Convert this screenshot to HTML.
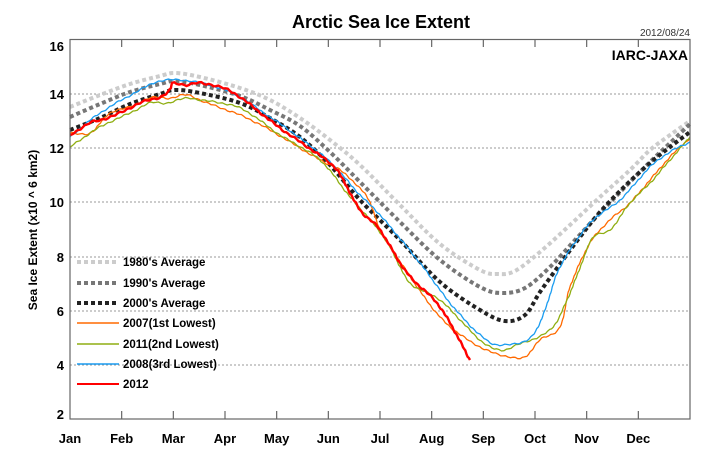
<!DOCTYPE html>
<html><head><meta charset="utf-8"><style>
html,body{margin:0;padding:0;background:#fff;}
svg{display:block;font-family:"Liberation Sans",sans-serif;}
</style></head><body>
<svg id="s" width="720" height="450" viewBox="0 0 720 450" xmlns="http://www.w3.org/2000/svg">
<rect width="720" height="450" fill="#fff"/>
<text x="381" y="28" font-size="18" font-weight="bold" text-anchor="middle">Arctic Sea Ice Extent</text>
<text x="690" y="36" font-size="10" text-anchor="end" fill="#333">2012/08/24</text>
<g id="grid" stroke="#999" stroke-width="1" stroke-dasharray="2,2">
<line x1="70" x2="690" y1="94" y2="94"/><line x1="70" x2="690" y1="148" y2="148"/>
<line x1="70" x2="690" y1="202" y2="202"/><line x1="70" x2="690" y1="257" y2="257"/>
<line x1="70" x2="690" y1="311" y2="311"/><line x1="70" x2="690" y1="365" y2="365"/>
</g>
<g id="series"></g>
<rect x="70" y="39.5" width="620" height="379.5" fill="none" stroke="#666" stroke-width="1.2"/>
<g id="ticks" stroke="#666" stroke-width="1.2"></g>
<text x="688" y="60" font-size="14" font-weight="bold" text-anchor="end">IARC-JAXA</text>
<g font-size="13" font-weight="bold" text-anchor="end">
<text x="64" y="51">16</text><text x="64" y="99">14</text><text x="64" y="153">12</text>
<text x="64" y="207">10</text><text x="64" y="262">8</text><text x="64" y="316">6</text>
<text x="64" y="370">4</text><text x="64" y="419">2</text>
</g>
<g id="xl" font-size="13" font-weight="bold" text-anchor="middle"></g>
<text transform="translate(37,230) rotate(-90)" font-size="12" font-weight="bold" text-anchor="middle">Sea Ice Extent (x10 ^ 6 km2)</text>
<g font-size="11.5" font-weight="bold">
<line x1="77" x2="119" y1="262" y2="262" stroke="#ccc" stroke-width="4" stroke-dasharray="4,3"/><text x="123" y="266">1980's Average</text>
<line x1="77" x2="119" y1="283" y2="283" stroke="#777" stroke-width="4" stroke-dasharray="4,3"/><text x="123" y="287">1990's Average</text>
<line x1="77" x2="119" y1="303" y2="303" stroke="#222" stroke-width="4" stroke-dasharray="4,3"/><text x="123" y="307">2000's Average</text>
<line x1="77" x2="119" y1="323" y2="323" stroke="#ff6a00" stroke-width="1.5"/><text x="123" y="327">2007(1st Lowest)</text>
<line x1="77" x2="119" y1="344" y2="344" stroke="#8fae12" stroke-width="1.5"/><text x="123" y="348">2011(2nd Lowest)</text>
<line x1="77" x2="119" y1="364" y2="364" stroke="#1a9cf0" stroke-width="1.5"/><text x="123" y="368">2008(3rd Lowest)</text>
<line x1="77" x2="119" y1="384" y2="384" stroke="#f00" stroke-width="2"/><text x="123" y="388">2012</text>
</g>
</svg>
<script>
var NS="http://www.w3.org/2000/svg";
function el(p,t,a){var e=document.createElementNS(NS,t);for(var k in a)e.setAttribute(k,a[k]);p.appendChild(e);return e;}
var months=["Jan","Feb","Mar","Apr","May","Jun","Jul","Aug","Sep","Oct","Nov","Dec"];
var tg=document.getElementById("ticks"),xl=document.getElementById("xl");
for(var i=0;i<12;i++){var x=70+i*620/12;
 if(i>0){el(tg,"line",{x1:x,x2:x,y1:40,y2:47});el(tg,"line",{x1:x,x2:x,y1:419,y2:411});}
 var t=el(xl,"text",{x:x,y:443});t.textContent=months[i];}
function cr(p){var d="M"+p[0][0]+","+p[0][1];
 for(var i=0;i<p.length-1;i++){var p0=p[i-1]||p[i],p1=p[i],p2=p[i+1],p3=p[i+2]||p2;
  d+=" C"+(p1[0]+(p2[0]-p0[0])/6)+","+(p1[1]+(p2[1]-p0[1])/6)+" "+(p2[0]-(p3[0]-p1[0])/6)+","+(p2[1]-(p3[1]-p1[1])/6)+" "+p2[0]+","+p2[1];}
 return d;}
var sg=document.getElementById("series");
var S=[
["#ccc",4,"4,3",[[70,107],[100,95],[130,84],[160,76],[175,73],[200,77],[240,88],[270,100],[300,118],[330,140],[360,165],[400,205],[440,244],[480,270],[498,274],[515,271],[540,252],[570,225],[600,197],[630,170],[650,150],[670,135],[690,121]],0],
["#777",4,"4,3",[[70,117],[100,104],[130,92],[160,84],[175,81],[200,85],[240,96],[270,110],[300,126],[330,152],[360,182],[400,222],[440,260],[480,287],[502,293],[525,288],[550,267],[575,240],[600,213],[625,187],[650,162],[670,143],[690,124]],0],
["#222",4,"4,3",[[70,130],[100,118],[130,104],[160,94],[175,90],[200,93],[240,103],[270,118],[300,137],[330,165],[360,200],[400,240],[440,282],[480,310],[505,321],[525,315],[540,292],[560,264],[580,237],[600,212],[625,186],[650,163],[670,147],[690,132]],0],
["#ff6a00",1.3,"",[[70,133],[90,133],[110,113],[130,107],[150,98],[170,98],[187,95],[207,103],[240,115],[270,130],[320,160],[340,170],[367,197],[380,230],[397,257],[440,317],[480,347],[510,357],[525,357],[540,340],[560,327],[570,287],[590,243],[610,220],[630,203],[650,180],[670,157],[690,138]],1],
["#8fae12",1.3,"",[[70,147],[100,127],[130,113],[150,103],[167,103],[187,98],[200,100],[240,108],[280,135],[320,160],[350,197],[373,223],[390,247],[410,283],[440,300],[480,340],[500,350],[517,345],[550,330],[567,300],[583,260],[593,237],[610,230],[630,203],[650,183],[670,160],[690,137]],1],
["#1a9cf0",1.3,"",[[70,137],[100,113],[140,90],[160,81],[190,81],[230,92],[270,117],[300,138],[330,162],[360,195],[380,215],[420,263],[450,303],[480,335],[500,345],[530,338],[545,310],[560,267],[590,223],[620,200],[650,167],[670,152],[690,142]],1],
["#f00",2.4,"",[[70,135],[90,123],[100,120],[110,117],[120,113],[140,103],[160,97],[170,90],[173,83],[187,85],[200,83],[220,87],[240,97],[280,128],[330,163],[343,180],[360,210],[380,230],[407,273],[440,307],[470,360]],1.2]
];
S.forEach(function(s,si){
 var a={d:cr(s[3]),fill:"none",stroke:s[0],"stroke-width":s[1],"stroke-linejoin":"round"};
 if(s[2])a["stroke-dasharray"]=s[2];
 var p=el(sg,"path",a);
 if(s[4]){
  var L=p.getTotalLength(),pts=[],n=Math.round(L/2.5);
  for(var k=0;k<=n;k++){var q=p.getPointAtLength(L*k/n);
   var j=(k==0||k==n)?0:s[4]*(Math.sin(k*1.7+si*3)+0.6*Math.sin(k*0.53+si))*0.7;
   pts.push(q.x.toFixed(1)+","+(q.y+j).toFixed(1));}
  p.setAttribute("d","M"+pts.join(" L"));
 }
});
</script>
</body></html>
